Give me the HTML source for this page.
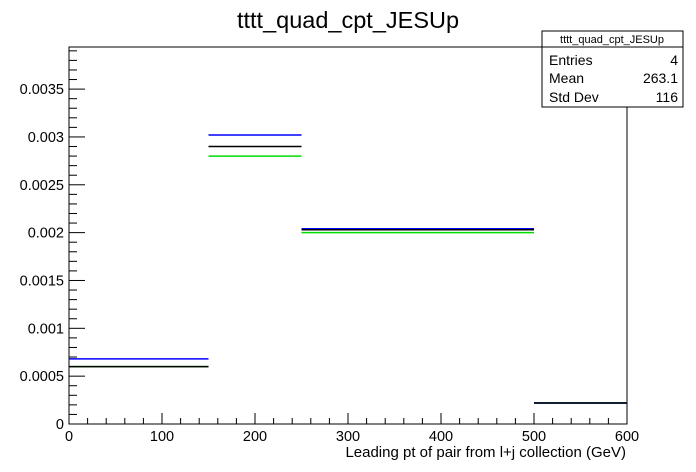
<!DOCTYPE html>
<html><head><meta charset="utf-8"><style>
body{margin:0;background:#fff;}
svg{display:block;font-family:"Liberation Sans",sans-serif;}
</style></head><body>
<svg id="c" width="696" height="472" xmlns="http://www.w3.org/2000/svg">
<text x="348" y="28" text-anchor="middle" font-size="23.5">tttt_quad_cpt_JESUp</text>
<rect x="69" y="47" width="558" height="377" fill="none" stroke="#000" stroke-width="1"/>
<g id="ticks"></g>
<g id="series"></g>
<text x="626" y="457" text-anchor="end" font-size="15">Leading pt of pair from l+j collection (GeV)</text>
<g>
<rect x="542" y="31" width="141" height="76" fill="#fff" stroke="#000"/>
<line x1="542" y1="47" x2="683" y2="47" stroke="#000"/>
<text x="612" y="43" text-anchor="middle" font-size="11">tttt_quad_cpt_JESUp</text>
<text x="549" y="65" font-size="14">Entries</text><text x="678" y="65" text-anchor="end" font-size="14">4</text>
<text x="549" y="83" font-size="14">Mean</text><text x="678" y="83" text-anchor="end" font-size="14">263.1</text>
<text x="549" y="102" font-size="14">Std Dev</text><text x="678" y="102" text-anchor="end" font-size="14">116</text>
</g>
</svg>
<script>
const binEdges=[0,150,250,500,600];
const blackVals=[0.0006,0.0029,0.00203,0.00022];
const blueVals=[0.00068,0.00302,0.00204,0.00022];
const greenVals=[0.0006,0.0028,0.002,0.00022];
const xTicks=[0,100,200,300,400,500,600];
const yTicks=[0,0.0005,0.001,0.0015,0.002,0.0025,0.003,0.0035];
const yTickLabels=["0","0.0005","0.001","0.0015","0.002","0.0025","0.003","0.0035"];
const X0=69,X1=627,Y0=424,Y1=47,XMAX=600,YMAX=0.00394;
const sx=v=>X0+(X1-X0)*v/XMAX;
const sy=v=>Y0-(Y0-Y1)*v/YMAX;
const NS="http://www.w3.org/2000/svg";
const tg=document.getElementById('ticks'),sg=document.getElementById('series');
function ln(p,x1,y1,x2,y2,c,w){const l=document.createElementNS(NS,'line');l.setAttribute('x1',x1);l.setAttribute('y1',y1);l.setAttribute('x2',x2);l.setAttribute('y2',y2);l.setAttribute('stroke',c);l.setAttribute('stroke-width',w);p.appendChild(l);return l;}
function tx(p,x,y,s,a){const t=document.createElementNS(NS,'text');t.setAttribute('x',x);t.setAttribute('y',y);t.setAttribute('text-anchor',a);t.setAttribute('font-size',14.5);t.textContent=s;p.appendChild(t);return t;}
for(let v=0;v<=XMAX;v+=20){const big=v%100===0;const l=ln(tg,sx(v),Y0,sx(v),Y0-(big?11:6),'#000',1);

}
xTicks.forEach(v=>{const t=tx(tg,sx(v),441,String(v),'middle');

});
for(let i=0;i*0.0001<=YMAX;i++){const v=i*0.0001;const big=i%5===0;const l=ln(tg,X0,sy(v),X0+(big?16:8),sy(v),'#000',1);

}
yTicks.forEach((v,i)=>{const t=tx(tg,64,sy(v)+5,yTickLabels[i],'end');

});
function draw(vals,color,name){vals.forEach((v,i)=>{const l=ln(sg,sx(binEdges[i]),sy(v),sx(binEdges[i+1]),sy(v),color,1.5);

});}
draw(greenVals,'#00dd00','green-series');
draw(blueVals,'#0000ff','blue-series');
draw(blackVals,'#000000','black-series');
</script>
</body></html>
